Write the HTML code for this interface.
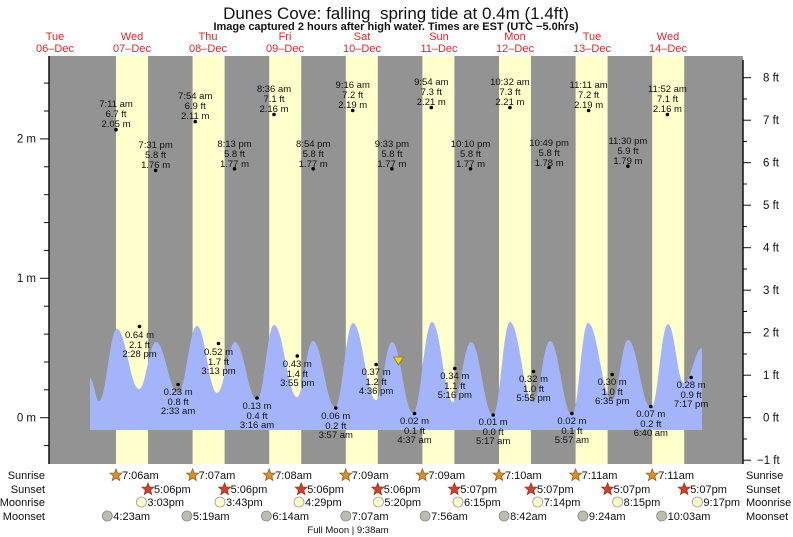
<!DOCTYPE html>
<html><head><meta charset="utf-8"><style>
html,body{margin:0;padding:0;background:#fff;}
svg{display:block;font-family:"Liberation Sans",Arial,sans-serif;}
.t{font-size:9.5px;fill:#111;text-anchor:middle}
.d{font-size:11px;fill:#ee2222;text-anchor:middle}
.a{font-size:11.5px;fill:#111}
.b{font-size:11px;fill:#111}
</style></head><body>
<svg width="793" height="537" viewBox="0 0 793 537" xmlns="http://www.w3.org/2000/svg">
<rect width="793" height="537" fill="#fff"/>
<text x="396" y="19" font-size="17" text-anchor="middle" fill="#111">Dunes Cove: falling &#160;spring tide at 0.4m (1.4ft)</text>
<text x="396" y="30" font-size="11" font-weight="bold" text-anchor="middle" fill="#111">Image captured 2 hours after high water. Times are EST (UTC −5.0hrs)</text>
<g class="d">
<text x="55" y="40">Tue</text><text x="55" y="52">06–Dec</text>
<text x="132" y="40">Wed</text><text x="132" y="52">07–Dec</text>
<text x="208" y="40">Thu</text><text x="208" y="52">08–Dec</text>
<text x="285" y="40">Fri</text><text x="285" y="52">09–Dec</text>
<text x="362" y="40">Sat</text><text x="362" y="52">10–Dec</text>
<text x="439" y="40">Sun</text><text x="439" y="52">11–Dec</text>
<text x="515" y="40">Mon</text><text x="515" y="52">12–Dec</text>
<text x="592" y="40">Tue</text><text x="592" y="52">13–Dec</text>
<text x="668" y="40">Wed</text><text x="668" y="52">14–Dec</text>
</g>
<rect x="49" y="56" width="694" height="408" fill="#939393"/>
<g fill="#ffffcc">
<rect x="116" y="56" width="32" height="408"/>
<rect x="192.6" y="56" width="32" height="408"/>
<rect x="269.2" y="56" width="32" height="408"/>
<rect x="345.8" y="56" width="32" height="408"/>
<rect x="422.4" y="56" width="32" height="408"/>
<rect x="499" y="56" width="32" height="408"/>
<rect x="575.6" y="56" width="32" height="408"/>
<rect x="652.2" y="56" width="32" height="408"/>
</g>
<path fill="#a3b4fa" d="M90,378 C93.6,378 95.4,401 99,401 C106.2,401 109.8,329 117,329 C125.8,329 130.2,389 139,389 C145.8,389 149.2,342 156,342 C164.8,342 169.2,393 178,393 C185.6,393 189.4,326 197,326 C205,326 209,393 217,393 C224.2,393 227.8,342 235,342 C243.8,342 248.2,400 257,400 C263.8,400 267.2,325 274,325 C283.2,325 287.8,397 297,397 C303.4,397 306.6,341 313,341 C321.8,341 326.2,407 335,407 C342.2,407 345.8,323 353,323 C362.2,323 366.8,400 376,400 C382.4,400 385.6,342 392,342 C400.4,342 404.6,413 413,413 C420.6,413 424.4,322 432,322 C440.4,322 444.6,402 453,402 C460.2,402 463.8,342 471,342 C479.8,342 484.2,415 493,415 C499.8,415 503.2,322 510,322 C519.2,322 523.8,402 533,402 C539.8,402 543.2,341 550,341 C558.8,341 563.2,415 572,415 C578.4,415 581.6,323 588,323 C597.6,323 602.4,400 612,400 C618.4,400 621.6,340 628,340 C637.2,340 641.8,408 651,408 C657.8,408 661.2,324 668,324 C674.4,324 677.6,383 684,383 C691.2,383 694.8,348 702,348 L702,430 L90,430 Z"/>
<g stroke="#111" stroke-width="1">
<line x1="49" y1="56" x2="49" y2="464" stroke-width="1.5"/>
<line x1="40" y1="417.7" x2="49" y2="417.7"/><line x1="40" y1="278.3" x2="49" y2="278.3"/><line x1="40" y1="138.9" x2="49" y2="138.9"/>
<line x1="44" y1="445.6" x2="49" y2="445.6"/><line x1="44" y1="389.8" x2="49" y2="389.8"/><line x1="44" y1="362" x2="49" y2="362"/><line x1="44" y1="334.1" x2="49" y2="334.1"/><line x1="44" y1="306.2" x2="49" y2="306.2"/><line x1="44" y1="250.4" x2="49" y2="250.4"/><line x1="44" y1="222.6" x2="49" y2="222.6"/><line x1="44" y1="194.7" x2="49" y2="194.7"/><line x1="44" y1="166.8" x2="49" y2="166.8"/><line x1="44" y1="111" x2="49" y2="111"/><line x1="44" y1="83.1" x2="49" y2="83.1"/>
</g>
<g class="a" text-anchor="end">
<text x="36" y="421.5">0 m</text><text x="36" y="282">1 m</text><text x="36" y="142.5">2 m</text>
</g>
<g stroke="#111" stroke-width="1">
<line x1="743" y1="60" x2="743" y2="464" stroke-width="1.5"/>
<line x1="743" y1="77.7" x2="751" y2="77.7"/><line x1="743" y1="120.2" x2="751" y2="120.2"/><line x1="743" y1="162.7" x2="751" y2="162.7"/><line x1="743" y1="205.2" x2="751" y2="205.2"/><line x1="743" y1="247.7" x2="751" y2="247.7"/><line x1="743" y1="290.2" x2="751" y2="290.2"/><line x1="743" y1="332.7" x2="751" y2="332.7"/><line x1="743" y1="375.2" x2="751" y2="375.2"/><line x1="743" y1="417.7" x2="751" y2="417.7"/><line x1="743" y1="460.2" x2="751" y2="460.2"/>
<line x1="743" y1="99" x2="747" y2="99"/><line x1="743" y1="141.5" x2="747" y2="141.5"/><line x1="743" y1="184" x2="747" y2="184"/><line x1="743" y1="226.5" x2="747" y2="226.5"/><line x1="743" y1="269" x2="747" y2="269"/><line x1="743" y1="311.5" x2="747" y2="311.5"/><line x1="743" y1="354" x2="747" y2="354"/><line x1="743" y1="396.5" x2="747" y2="396.5"/><line x1="743" y1="439" x2="747" y2="439"/>
</g>
<g class="a">
<text x="763" y="81.7">8 ft</text><text x="763" y="124.2">7 ft</text><text x="763" y="166.7">6 ft</text><text x="763" y="209.2">5 ft</text><text x="763" y="251.7">4 ft</text><text x="763" y="294.2">3 ft</text><text x="763" y="336.7">2 ft</text><text x="763" y="379.2">1 ft</text><text x="763" y="421.7">0 ft</text><text x="757" y="464.2">−1 ft</text>
</g>
<g class="t">
<text x="116" y="107">7:11 am</text><text x="116" y="117">6.7 ft</text><text x="116" y="127">2.05 m</text>
<text x="155.6" y="148">7:31 pm</text><text x="155.6" y="158">5.8 ft</text><text x="155.6" y="168">1.76 m</text>
<text x="195.2" y="99">7:54 am</text><text x="195.2" y="109">6.9 ft</text><text x="195.2" y="119">2.11 m</text>
<text x="234.5" y="147">8:13 pm</text><text x="234.5" y="157">5.8 ft</text><text x="234.5" y="167">1.77 m</text>
<text x="274" y="92">8:36 am</text><text x="274" y="102">7.1 ft</text><text x="274" y="112">2.16 m</text>
<text x="313.2" y="147">8:54 pm</text><text x="313.2" y="157">5.8 ft</text><text x="313.2" y="167">1.77 m</text>
<text x="352.7" y="88">9:16 am</text><text x="352.7" y="98">7.2 ft</text><text x="352.7" y="108">2.19 m</text>
<text x="391.9" y="147">9:33 pm</text><text x="391.9" y="157">5.8 ft</text><text x="391.9" y="167">1.77 m</text>
<text x="431.3" y="85">9:54 am</text><text x="431.3" y="95">7.3 ft</text><text x="431.3" y="105">2.21 m</text>
<text x="470.5" y="147">10:10 pm</text><text x="470.5" y="157">5.8 ft</text><text x="470.5" y="167">1.77 m</text>
<text x="509.9" y="85">10:32 am</text><text x="509.9" y="95">7.3 ft</text><text x="509.9" y="105">2.21 m</text>
<text x="549.1" y="146">10:49 pm</text><text x="549.1" y="156">5.8 ft</text><text x="549.1" y="166">1.78 m</text>
<text x="588.6" y="88">11:11 am</text><text x="588.6" y="98">7.2 ft</text><text x="588.6" y="108">2.19 m</text>
<text x="627.9" y="144">11:30 pm</text><text x="627.9" y="154">5.9 ft</text><text x="627.9" y="164">1.79 m</text>
<text x="667.4" y="92">11:52 am</text><text x="667.4" y="102">7.1 ft</text><text x="667.4" y="112">2.16 m</text>
</g>
<g fill="#000">
<circle cx="116" cy="129.7" r="1.8"/><circle cx="155.6" cy="170.4" r="1.8"/><circle cx="195.2" cy="121.6" r="1.8"/><circle cx="234.5" cy="168.8" r="1.8"/><circle cx="274" cy="114.5" r="1.8"/><circle cx="313.2" cy="168.8" r="1.8"/><circle cx="352.7" cy="110.5" r="1.8"/><circle cx="391.9" cy="168.8" r="1.8"/><circle cx="431.3" cy="107.6" r="1.8"/><circle cx="470.5" cy="168.8" r="1.8"/><circle cx="509.9" cy="107.6" r="1.8"/><circle cx="549.1" cy="167.5" r="1.8"/><circle cx="588.6" cy="110.5" r="1.8"/><circle cx="627.9" cy="166.2" r="1.8"/><circle cx="667.4" cy="114.5" r="1.8"/>
<circle cx="139.5" cy="326.5" r="1.8"/><circle cx="178.1" cy="384.5" r="1.8"/><circle cx="218.5" cy="343.5" r="1.8"/><circle cx="257" cy="398" r="1.8"/><circle cx="297.3" cy="356" r="1.8"/><circle cx="335.8" cy="408" r="1.8"/><circle cx="376.1" cy="364.5" r="1.8"/><circle cx="414.5" cy="413.5" r="1.8"/><circle cx="454.8" cy="368.5" r="1.8"/><circle cx="493.2" cy="415" r="1.8"/><circle cx="533.5" cy="371.5" r="1.8"/><circle cx="571.9" cy="413.5" r="1.8"/><circle cx="612.2" cy="374.5" r="1.8"/><circle cx="650.8" cy="406.5" r="1.8"/><circle cx="691.1" cy="377.5" r="1.8"/>
</g>
<g class="t">
<text x="139.5" y="338">0.64 m</text><text x="139.5" y="348">2.1 ft</text><text x="139.5" y="357">2:28 pm</text>
<text x="178.1" y="395">0.23 m</text><text x="178.1" y="405">0.8 ft</text><text x="178.1" y="414">2:33 am</text>
<text x="218.5" y="355">0.52 m</text><text x="218.5" y="365">1.7 ft</text><text x="218.5" y="374">3:13 pm</text>
<text x="257" y="409">0.13 m</text><text x="257" y="419">0.4 ft</text><text x="257" y="428">3:16 am</text>
<text x="297.3" y="367">0.43 m</text><text x="297.3" y="377">1.4 ft</text><text x="297.3" y="386">3:55 pm</text>
<text x="335.8" y="419">0.06 m</text><text x="335.8" y="429">0.2 ft</text><text x="335.8" y="438">3:57 am</text>
<text x="376.1" y="375">0.37 m</text><text x="376.1" y="385">1.2 ft</text><text x="376.1" y="394">4:36 pm</text>
<text x="414.5" y="424">0.02 m</text><text x="414.5" y="434">0.1 ft</text><text x="414.5" y="443">4:37 am</text>
<text x="454.8" y="379">0.34 m</text><text x="454.8" y="389">1.1 ft</text><text x="454.8" y="398">5:16 pm</text>
<text x="493.2" y="425">0.01 m</text><text x="493.2" y="435">0.0 ft</text><text x="493.2" y="444">5:17 am</text>
<text x="533.5" y="382">0.32 m</text><text x="533.5" y="392">1.0 ft</text><text x="533.5" y="401">5:55 pm</text>
<text x="571.9" y="424">0.02 m</text><text x="571.9" y="434">0.1 ft</text><text x="571.9" y="443">5:57 am</text>
<text x="612.2" y="385">0.30 m</text><text x="612.2" y="395">1.0 ft</text><text x="612.2" y="404">6:35 pm</text>
<text x="650.8" y="417">0.07 m</text><text x="650.8" y="427">0.2 ft</text><text x="650.8" y="436">6:40 am</text>
<text x="691.1" y="388">0.28 m</text><text x="691.1" y="398">0.9 ft</text><text x="691.1" y="407">7:17 pm</text>
</g>
<polygon points="393.5,357 403.5,357 398.5,365" fill="#f4d21a" stroke="#8a7a10" stroke-width="0.8"/>
<g class="b" text-anchor="end">
<text x="45" y="479">Sunrise</text><text x="45" y="493">Sunset</text><text x="45" y="506">Moonrise</text><text x="45" y="520">Moonset</text>
</g>
<g class="b">
<text x="746" y="479">Sunrise</text><text x="746" y="493">Sunset</text><text x="746" y="506">Moonrise</text><text x="746" y="520">Moonset</text>
</g>
<defs>
<polygon id="st" points="0,-6 1.6,-2 6,-1.9 2.6,1 3.7,5.5 0,3 -3.7,5.5 -2.6,1 -6,-1.9 -1.6,-2"/>
</defs>
<g fill="#e38b24" stroke="#8a6a20" stroke-width="0.8">
<use href="#st" x="116" y="475"/><use href="#st" x="192.6" y="475"/><use href="#st" x="269.2" y="475"/><use href="#st" x="345.8" y="475"/><use href="#st" x="422.4" y="475"/><use href="#st" x="499" y="475"/><use href="#st" x="575.6" y="475"/><use href="#st" x="652.2" y="475"/>
</g>
<g fill="#e03a24" stroke="#8a3a20" stroke-width="0.8">
<use href="#st" x="148" y="489"/><use href="#st" x="224.6" y="489"/><use href="#st" x="301.2" y="489"/><use href="#st" x="377.8" y="489"/><use href="#st" x="454.4" y="489"/><use href="#st" x="531" y="489"/><use href="#st" x="607.6" y="489"/><use href="#st" x="684.2" y="489"/>
</g>
<g class="b" font-size="10.5">
<text x="122" y="479">7:06am</text><text x="198.6" y="479">7:07am</text><text x="275.2" y="479">7:08am</text><text x="351.8" y="479">7:09am</text><text x="428.4" y="479">7:09am</text><text x="505" y="479">7:10am</text><text x="581.6" y="479">7:11am</text><text x="658.2" y="479">7:11am</text>
<text x="154" y="493">5:06pm</text><text x="230.6" y="493">5:06pm</text><text x="307.2" y="493">5:06pm</text><text x="383.8" y="493">5:06pm</text><text x="460.4" y="493">5:07pm</text><text x="537" y="493">5:07pm</text><text x="613.6" y="493">5:07pm</text><text x="690.2" y="493">5:07pm</text>
<text x="147.4" y="506">3:03pm</text><text x="226" y="506">3:43pm</text><text x="305" y="506">4:29pm</text><text x="384.4" y="506">5:20pm</text><text x="464" y="506">6:15pm</text><text x="543.7" y="506">7:14pm</text><text x="623.6" y="506">8:15pm</text><text x="703.4" y="506">9:17pm</text>
<text x="113.3" y="520">4:23am</text><text x="192.9" y="520">5:19am</text><text x="272.4" y="520">6:14am</text><text x="351.8" y="520">7:07am</text><text x="431.1" y="520">7:56am</text><text x="510.1" y="520">8:42am</text><text x="588.9" y="520">9:24am</text><text x="667.6" y="520">10:03am</text>
</g>
<g fill="#ffffcc" stroke="#999" stroke-width="0.8">
<circle cx="141.4" cy="502" r="5"/><circle cx="220" cy="502" r="5"/><circle cx="299" cy="502" r="5"/><circle cx="378.4" cy="502" r="5"/><circle cx="458" cy="502" r="5"/><circle cx="537.7" cy="502" r="5"/><circle cx="617.6" cy="502" r="5"/><circle cx="697.4" cy="502" r="5"/>
</g>
<g fill="#bdbdae" stroke="#888" stroke-width="0.8">
<circle cx="107.3" cy="516" r="5"/><circle cx="186.9" cy="516" r="5"/><circle cx="266.4" cy="516" r="5"/><circle cx="345.8" cy="516" r="5"/><circle cx="425.1" cy="516" r="5"/><circle cx="504.1" cy="516" r="5"/><circle cx="582.9" cy="516" r="5"/><circle cx="661.6" cy="516" r="5"/>
</g>
<text x="348" y="533" font-size="9.5" text-anchor="middle" fill="#111">Full Moon | 9:38am</text>
</svg>
</body></html>
